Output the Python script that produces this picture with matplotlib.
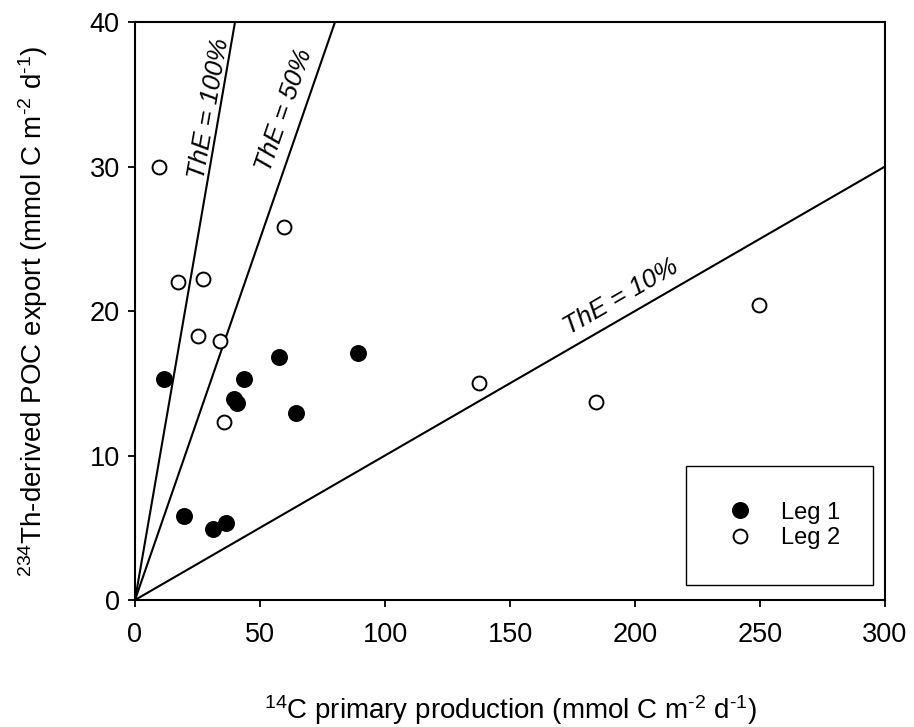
import numpy as np
import matplotlib
matplotlib.use("Agg")
import matplotlib.pyplot as plt
from matplotlib.patches import Rectangle

plt.rcParams['font.family'] = ['Liberation Sans', 'DejaVu Sans']
plt.rcParams['mathtext.default'] = 'regular'

# Data
leg1_x = [11.6, 19.6, 31.1, 36.4, 43.6, 39.6, 40.9, 57.6, 64.4, 89.2]
leg1_y = [15.3, 5.8, 4.9, 5.3, 15.3, 13.9, 13.65, 16.8, 12.95, 17.1]
leg2_x = [9.7, 17.3, 27.3, 59.6, 25.3, 34.0, 35.6, 137.7, 184.3, 249.7]
leg2_y = [30.0, 22.0, 22.2, 25.8, 18.3, 17.9, 12.3, 15.0, 13.7, 20.4]
the_ratios = [1.0, 0.5, 0.1]
the_labels = ['ThE = 100%', 'ThE = 50%', 'ThE = 10%']
the_label_pos = [(29.6, 34.0), (59.8, 33.9), (194.3, 21.0)]

fig = plt.figure(figsize=(9.14, 7.27), dpi=100)
ax = fig.add_axes([0.1477, 0.1747, 0.8206, 0.795])
ax.set_xlim(0, 300)
ax.set_ylim(0, 40)

xs = np.array([0, 300])
for r in the_ratios:
    ax.plot(xs, r * xs, color='black', lw=1.5, zorder=2)

ax.plot(leg1_x, leg1_y, 'o', color='black', ms=11, mec='black', mew=1.2,
        label='Leg 1', zorder=3, linestyle='none')
ax.plot(leg2_x, leg2_y, 'o', color='black', mfc='white', ms=10, mec='black', mew=1.4,
        label='Leg 2', zorder=3, linestyle='none')

fig.canvas.draw()
for r, lab, (tx, ty) in zip(the_ratios, the_labels, the_label_pos):
    p0 = ax.transData.transform((0, 0))
    p1 = ax.transData.transform((10, 10 * r))
    ang = np.degrees(np.arctan2(p1[1] - p0[1], p1[0] - p0[0]))
    ax.text(tx, ty, lab, rotation=ang, rotation_mode='anchor', ha='center', va='center',
            fontsize=18.5, fontstyle='italic', zorder=4)

ax.set_xticks([0, 50, 100, 150, 200, 250, 300])
ax.set_yticks([0, 10, 20, 30, 40])
ax.tick_params(direction='out', length=5, width=1.3, labelsize=19.5, top=False, right=False, pad=6)
ax.tick_params(axis='x', pad=11)
for s in ax.spines.values():
    s.set_linewidth(1.5)

ax.set_xlabel('$^{14}$C primary production (mmol C m$^{\u2010 2}$ d$^{\u2010 1}$)', fontsize=20)
ax.set_ylabel('$^{234}$Th-derived POC export (mmol C m$^{\u2010 2}$ d$^{\u2010 1}$)', fontsize=20)
ax.xaxis.set_label_coords(0.5, -0.161)
ax.yaxis.set_label_coords(-0.113, 0.5)

rect = Rectangle((0.7347, 0.026), 0.2493, 0.206, transform=ax.transAxes, fill=False,
                 edgecolor='black', lw=1.0, zorder=5)
ax.add_patch(rect)
leg = ax.legend(loc='center', bbox_to_anchor=(0.862, 0.129), frameon=False, fontsize=17,
                handletextpad=1.0, labelspacing=0.15, borderaxespad=0, handlelength=1.5)

fig.savefig('out.png', dpi=100)
